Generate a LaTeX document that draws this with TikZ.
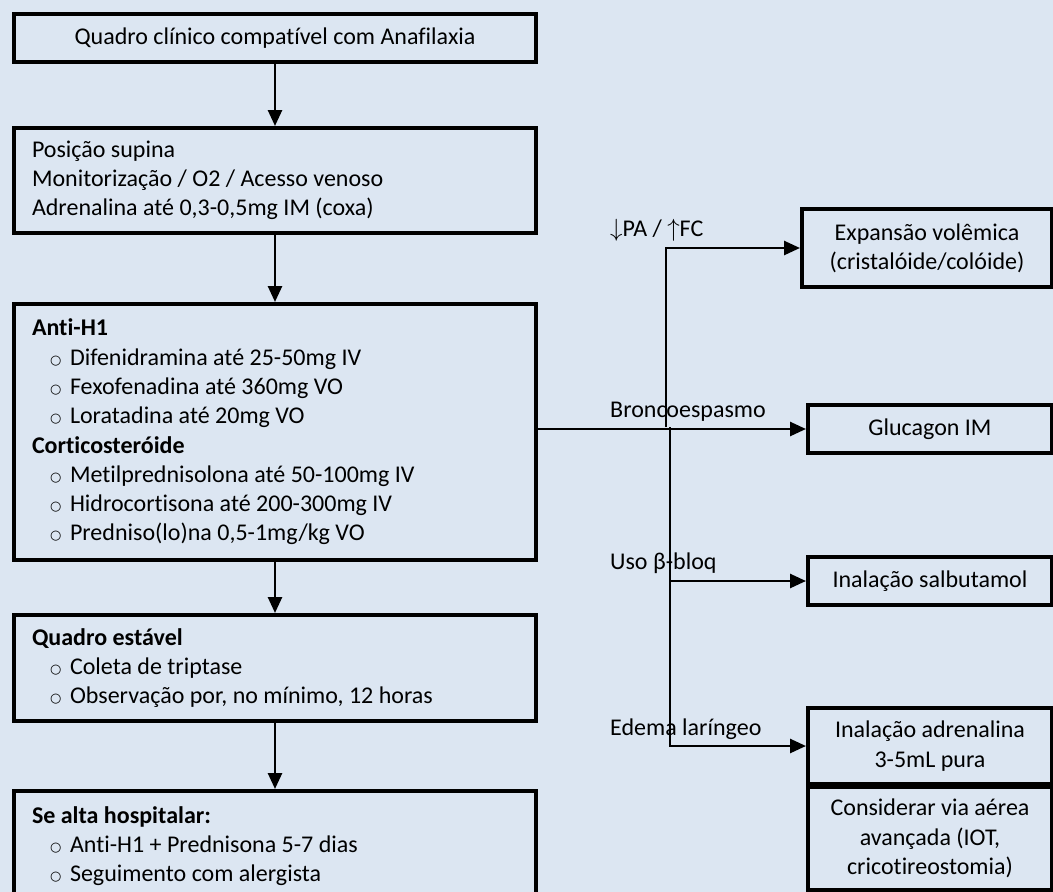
\documentclass[tikz,border=0pt]{standalone}
\usepackage{fontspec}
\setmainfont{Carlito}[Ligatures=NoCommon]
\newfontfamily\dejav{DejaVu Sans}
\usetikzlibrary{arrows.meta}
\definecolor{bg}{HTML}{DCE6F2}
\newcommand\bitem[1]{\hspace*{18pt}\makebox[20pt][l]{\raisebox{1pt}{\dejav\fontsize{13}{13}\selectfont ○}}#1}
\tikzset{
  boxbase/.style={draw=black, line width=4pt, fill=bg, rectangle, anchor=north west,
    font=\fontsize{24}{29.3}\selectfont},
  lbox/.style={boxbase, text width=486pt, inner xsep=18pt, inner ysep=0pt, align=flush left, minimum width=522pt},
  cbox/.style={boxbase, inner sep=0pt, align=center},
  lbl/.style={anchor=west, inner sep=0pt, font=\fontsize{24}{29.3}\selectfont},
  arr/.style={line width=2.6pt, -{Triangle[length=16pt,width=14pt]}},
  ln/.style={line width=2.6pt}
}
\begin{document}
\begin{tikzpicture}[x=1pt,y=-1pt]
\useasboundingbox (0,0) rectangle (1053,892);
\fill[bg] (0,0) rectangle (1053,892);

% left column
\node[cbox, minimum width=522pt, minimum height=48pt] (b1) at (12,12) {Quadro clínico compatível com Anafilaxia};
\node[lbox, minimum height=105pt] (b2) at (12,126) {Posição supina\\Monitorização / O2 / Acesso venoso\\Adrenalina até 0,3-0,5mg IM (coxa)};
\node[lbox, minimum height=256pt] (b3) at (12,302) {\textbf{Anti-H1}\\
\bitem{Difenidramina até 25-50mg IV}\\
\bitem{Fexofenadina até 360mg VO}\\
\bitem{Loratadina até 20mg VO}\\
\textbf{Corticosteróide}\\
\bitem{Metilprednisolona até 50-100mg IV}\\
\bitem{Hidrocortisona até 200-300mg IV}\\
\bitem{Predniso(lo)na 0,5-1mg/kg VO}};
\node[lbox, minimum height=106pt] (b4) at (12,613) {\textbf{Quadro estável}\\
\bitem{Coleta de triptase}\\
\bitem{Observação por, no mínimo, 12 horas}};
\node[lbox, minimum height=110pt] (b5) at (12,789) {\textbf{Se alta hospitalar:}\\
\bitem{Anti-H1 + Prednisona 5-7 dias}\\
\bitem{Seguimento com alergista}};

% right column
\node[cbox, minimum width=250pt, minimum height=78pt] (r1) at (800,207) {Expansão volêmica\\(cristalóide/colóide)};
\node[cbox, minimum width=244pt, minimum height=48pt] (r2) at (806,403) {Glucagon IM};
\node[cbox, minimum width=244pt, minimum height=48pt] (r3) at (806,555) {Inalação salbutamol};
\node[cbox, minimum width=244pt, minimum height=76pt] (r4) at (806,706) {Inalação adrenalina\\3-5mL pura};
\node[cbox, minimum width=244pt, minimum height=103pt] (r5) at (806,785) {Considerar via aérea\\avançada (IOT,\\cricotireostomia)};

% vertical flow
\draw[arr] (b1) -- (b2);
\draw[arr] (b2) -- (b3);
\draw[arr] (b3) -- (b4);
\draw[arr] (b4) -- (b5);

% branches
\coordinate (ju) at (666,427);
\coordinate (jd) at (670,427);
\draw[arr] (b3.east |- r2.west) -- (r2.west);
\draw[arr] (ju) |- (r1.west);
\draw[arr] (jd) |- (r3.west);
\draw[arr] (jd) |- (r4.west);

% labels
\node[lbl] (l1) at (610,230) {$\downarrow$PA / $\uparrow$FC};
\node[lbl] (l2) at (610,412) {Broncoespasmo};
\node[lbl] (l3) at (610,563) {Uso β-bloq};
\node[lbl] (l4) at (610,729) {Edema laríngeo};
\end{tikzpicture}
\end{document}
